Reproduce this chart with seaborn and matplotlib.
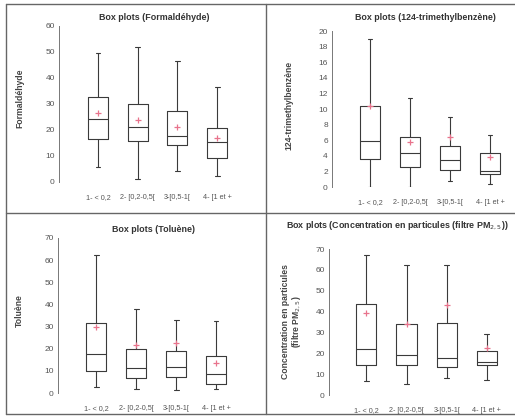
# box plots of four pollutants by group, summary stats
import pandas as pd
import seaborn as sns
import matplotlib.pyplot as plt
from matplotlib.lines import Line2D

groups = ['1- < 0,2', '2- [0,2-0,5[', '3-[0,5-1[', '4- [1 et +']

# formaldehyde: whisker low, q1, median, q3, whisker high, mean
formal_lo = [5.7, 1.3, 4.1, 2.4]
formal_q1 = [16.7, 15.7, 14.1, 9.4]
formal_med = [24.2, 21.0, 17.6, 15.2]
formal_q3 = [32.5, 30.1, 27.2, 20.6]
formal_hi = [49.6, 52.0, 46.5, 36.6]
formal_mean = [26.7, 23.7, 21.0, 17.0]

# 124-trimethylbenzene
tmb_lo = [0.0, 0.0, 0.8, 0.4]
tmb_q1 = [3.6, 2.6, 2.2, 1.66]
tmb_med = [5.9, 4.3, 3.4, 2.1]
tmb_q3 = [10.4, 6.4, 5.3, 4.35]
tmb_hi = [19.0, 11.4, 9.0, 6.65]
tmb_mean = [10.4, 5.8, 6.4, 3.8]

# toluene
tol_lo = [2.7, 2.0, 1.2, 1.8]
tol_q1 = [9.8, 6.6, 7.1, 4.2]
tol_med = [17.6, 11.4, 11.6, 8.6]
tol_q3 = [31.6, 19.7, 19.0, 16.6]
tol_hi = [62.5, 38.1, 32.8, 32.4]
tol_mean = [29.7, 21.8, 22.6, 13.4]

# particles PM2.5
pm_lo = [6.5, 5.1, 8.1, 7.0]
pm_q1 = [14.3, 14.5, 13.4, 14.3]
pm_med = [21.9, 19.1, 17.8, 15.9]
pm_q3 = [43.4, 33.9, 34.7, 21.3]
pm_hi = [66.9, 62.3, 62.3, 29.3]
pm_mean = [39.3, 34.0, 43.1, 22.3]

W, H = 515, 417
BOX_COL = '#3a3a3a'
MEAN_COL = '#e8738c'
TXT_COL = '#555555'

sns.set_style('white')
plt.rcParams['font.family'] = ['Liberation Sans', 'DejaVu Sans']

fig = plt.figure(figsize=(W / 100, H / 100), dpi=100)


def long_table(lo, q1, med, q3, hi):
    # five points per group -> seaborn quartiles land exactly on q1/med/q3
    rows = []
    for g, a, b, c, d, e in zip(groups, lo, q1, med, q3, hi):
        for v in (a, b, c, d, e):
            rows.append({'grp': g, 'val': v})
    return pd.DataFrame(rows)


def panel(rect_px, lo, q1, med, q3, hi, mean, ymax, ystep, xleft):
    # rect_px = (spine x, y of top value, right x, y of zero) in image pixels
    x0, ytop, x1, ybot = rect_px
    ax = fig.add_axes([x0 / W, (H - ybot) / H, (x1 - x0) / W, (ybot - ytop) / H])
    df = long_table(lo, q1, med, q3, hi)
    sns.boxplot(data=df, x='grp', y='val', order=groups, whis=(0, 100),
                width=0.5, fill=False, color=BOX_COL, linewidth=0.8,
                capwidths=0.12, ax=ax)
    mdf = pd.DataFrame({'grp': groups, 'mean': mean})
    sns.pointplot(data=mdf, x='grp', y='mean', order=groups, color=MEAN_COL,
                  marker='+', linestyle='none', markersize=5,
                  markeredgewidth=0.9, errorbar=None, zorder=10, ax=ax)
    ax.set_xlim(xleft, 3.6)
    ax.set_ylim(0, ymax)
    ax.set_yticks(range(0, ymax + 1, ystep))
    ax.set_xlabel('')
    ax.set_ylabel('')
    for s in ('top', 'right', 'bottom'):
        ax.spines[s].set_visible(False)
    ax.spines['left'].set_color('#777777')
    ax.spines['left'].set_linewidth(0.7)
    ax.tick_params(axis='y', direction='inout', length=3, width=0.6,
                   color='#777777', labelsize=6, labelcolor=TXT_COL, pad=1.5)
    ax.tick_params(axis='x', length=0, labelsize=5.2, labelcolor=TXT_COL, pad=9)
    ax.patch.set_alpha(0)
    return ax


panel((59, 26, 241, 182), formal_lo, formal_q1, formal_med, formal_q3,
      formal_hi, formal_mean, 60, 10, -0.98)
panel((332, 31, 514, 187), tmb_lo, tmb_q1, tmb_med, tmb_q3,
      tmb_hi, tmb_mean, 20, 2, -0.95)
panel((58, 238, 240, 393), tol_lo, tol_q1, tol_med, tol_q3,
      tol_hi, tol_mean, 70, 10, -0.96)
panel((329, 249, 511, 395), pm_lo, pm_q1, pm_med, pm_q3,
      pm_hi, pm_mean, 70, 10, -0.93)

# titles and y labels
def ftext(x, y, s, **kw):
    fig.text(x / W, 1 - y / H, s, ha='center', va='center', **kw)


tkw = dict(fontsize=6.4, fontweight='bold', color='#333333')
ftext(154, 18, 'Box plots (Formaldéhyde)', **tkw)
ftext(425, 18, 'Box plots (124-trimethylbenzène)', **tkw)
ftext(153, 230, 'Box plots (Toluène)', **tkw)
ftext(397, 226, 'Box plots (Concentration en particules (filtre PM$_{2,5}$))', **tkw)

lkw = dict(fontsize=6.2, fontweight='bold', color='#444444', rotation=90)
ftext(20, 98, 'Formaldéhyde', **lkw)
ftext(289, 105, '124-trimethylbenzène', **lkw)
ftext(19, 311, 'Toluène', **lkw)
ftext(292, 322, 'Concentration en particules\n(filtre PM$_{2,5}$)',
      linespacing=1.1, **lkw)

# frame around the four panels
frame = dict(color='#666666', linewidth=1.0)
for xs, ys in [((6, 516), (4, 4)), ((6, 6), (4, 414)), ((6, 516), (414, 414)),
               ((266, 266), (4, 414)), ((6, 516), (213, 213))]:
    fig.add_artist(Line2D([x / W for x in xs], [1 - y / H for y in ys],
                          transform=fig.transFigure, **frame))

fig.savefig('out.png', dpi=100, facecolor='white')
